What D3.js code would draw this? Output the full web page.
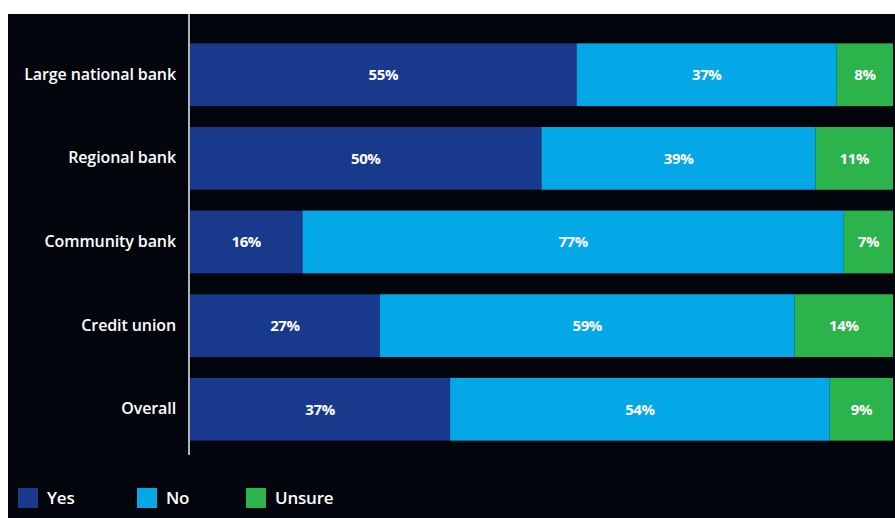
<!DOCTYPE html>
<html>
<head>
<meta charset="utf-8">
<script src="https://cdn.jsdelivr.net/npm/d3@7"></script>
<style>
  html, body { margin: 0; padding: 0; background: #ffffff; }
  svg { display: block; }
</style>
</head>
<body>
<svg id="chart" width="895" height="518"></svg>
<script>
// Survey answers by institution type (percent of respondents)
const categories = ["Large national bank", "Regional bank", "Community bank", "Credit union", "Overall"];
const yesValues = [55, 50, 16, 27, 37];
const noValues = [37, 39, 77, 59, 54];
const unsureValues = [8, 11, 7, 14, 9];
const seriesNames = ["Yes", "No", "Unsure"];
const seriesColors = ["#19398c", "#04a8e6", "#2db34b"];

const rows = categories.map((c, i) => ({
  category: c, Yes: yesValues[i], No: noValues[i], Unsure: unsureValues[i]
}));

const W = 895, H = 518;
const svg = d3.select("#chart");

// dark panel below a thin white strip
svg.append("rect").attr("x", 8).attr("y", 14).attr("width", W - 8).attr("height", H - 14)
  .attr("fill", "#03050c");

const margin = { left: 190, right: 2 };
const x = d3.scaleLinear().domain([0, 100]).range([margin.left, W - margin.right]);
const y = d3.scaleBand().domain(categories).range([35, 449]).paddingInner(0.25).paddingOuter(0.1);

const stack = d3.stack().keys(seriesNames);
const layers = stack(rows);
const color = d3.scaleOrdinal().domain(seriesNames).range(seriesColors);

const g = svg.append("g");
const layerG = g.selectAll("g.layer").data(layers).join("g")
  .attr("class", "layer").attr("fill", d => color(d.key));

layerG.selectAll("rect").data(d => d).join("rect")
  .attr("x", d => x(d[0]))
  .attr("y", d => y(d.data.category))
  .attr("width", d => x(d[1]) - x(d[0]))
  .attr("height", y.bandwidth());

// value labels centred in each segment
layers.forEach(layer => {
  g.selectAll(null).data(layer).join("text")
    .attr("x", d => (x(d[0]) + x(d[1])) / 2)
    .attr("y", d => y(d.data.category) + y.bandwidth() / 2)
    .attr("dy", "0.35em")
    .attr("text-anchor", "middle")
    .attr("fill", "#ffffff")
    .attr("font-family", "Open Sans, sans-serif")
    .attr("font-weight", 700)
    .attr("font-size", 15)
    .attr("letter-spacing", -0.4)
    .text(d => (d[1] - d[0]) + "%");
});

// category axis
const yAxis = d3.axisLeft(y).tickSize(0).tickPadding(13);
const axisG = svg.append("g").attr("transform", `translate(${margin.left - 1},0)`).call(yAxis);
axisG.select(".domain").remove();
axisG.selectAll("text")
  .attr("fill", "#ffffff")
  .attr("font-family", "Open Sans, sans-serif")
  .attr("font-weight", 600)
  .attr("font-size", 16)
  .attr("letter-spacing", -0.1);
svg.append("line")
  .attr("x1", margin.left - 1).attr("x2", margin.left - 1)
  .attr("y1", 14).attr("y2", 455)
  .attr("stroke", "#e8eef5").attr("stroke-width", 1.5);

// legend
const legendX = [18, 137, 246];
const legend = svg.append("g").selectAll("g").data(seriesNames).join("g")
  .attr("transform", (d, i) => `translate(${legendX[i]},488)`);
legend.append("rect").attr("width", 20).attr("height", 20).attr("fill", d => color(d));
legend.append("text")
  .attr("x", 29).attr("y", 10).attr("dy", "0.35em")
  .attr("fill", "#ffffff")
  .attr("font-family", "Open Sans, sans-serif")
  .attr("font-weight", 600)
  .attr("font-size", 17)
  .attr("letter-spacing", -0.2)
  .text(d => d);
</script>
</body>
</html>
